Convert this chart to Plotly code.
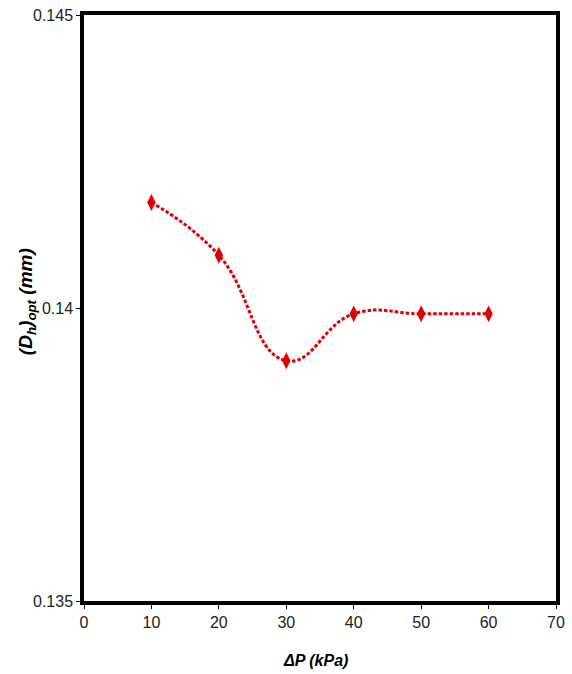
import plotly.graph_objects as go

# Pressure drop (kPa) vs. optimal hydraulic diameter (mm)
dp_kpa = [10, 20, 30, 40, 50, 60]
dh_opt = [0.1418, 0.1409, 0.1391, 0.1399, 0.1399, 0.1399]

x_ticks = [0, 10, 20, 30, 40, 50, 60, 70]
y_ticks = [0.135, 0.14, 0.145]
y_tick_text = ["0.135", "0.14", "0.145"]

red = "#E00000"
font_family = "Liberation Sans, Arial, sans-serif"

W, H = 572, 674
margin_l, margin_r, margin_t, margin_b = 84, 16, 15, 73
plot_w = W - margin_l - margin_r
plot_h = H - margin_t - margin_b

fig = go.Figure()
fig.add_trace(go.Scatter(
    x=dp_kpa, y=dh_opt,
    mode="lines+markers",
    line=dict(color=red, width=3, dash="3.5px,2px", shape="spline", smoothing=1.3),
    marker=dict(symbol="diamond-tall", size=12, color=red),
    showlegend=False,
))

# Axis titles as annotations for precise positioning
fig.add_annotation(
    text="<b><i>(D<sub>h</sub>)<sub>opt</sub> (mm)</i></b>",
    xref="paper", yref="paper",
    x=(27 - margin_l) / plot_w, y=0.51,
    xanchor="center", yanchor="middle",
    textangle=-90, showarrow=False,
    font=dict(family=font_family, size=19, color="black"),
)
fig.add_annotation(
    text="<b><i>ΔP (kPa)</i></b>",
    xref="paper", yref="paper",
    x=(315 - margin_l) / plot_w, y=-(660 - (H - margin_b)) / plot_h,
    xanchor="center", yanchor="middle",
    showarrow=False,
    font=dict(family=font_family, size=16, color="black"),
)

fig.update_layout(
    width=W, height=H,
    margin=dict(l=margin_l, r=margin_r, t=margin_t, b=margin_b),
    paper_bgcolor="white", plot_bgcolor="white",
    font=dict(family=font_family, size=16, color="#222"),
    xaxis=dict(
        range=[0, 70], tickvals=x_ticks, automargin=False,
        showgrid=False, zeroline=False,
        showline=True, linecolor="black", linewidth=3.5, mirror=True,
        ticks="outside", ticklen=4, tickwidth=1, tickcolor="black",
        tickfont=dict(size=16),
    ),
    yaxis=dict(
        range=[0.135, 0.145], tickvals=y_ticks, ticktext=y_tick_text, automargin=False,
        showgrid=False, zeroline=False,
        showline=True, linecolor="black", linewidth=3.5, mirror=True,
        ticks="outside", ticklen=4, tickwidth=1, tickcolor="black",
        tickfont=dict(size=16),
    ),
)

fig.write_html("out.html")
